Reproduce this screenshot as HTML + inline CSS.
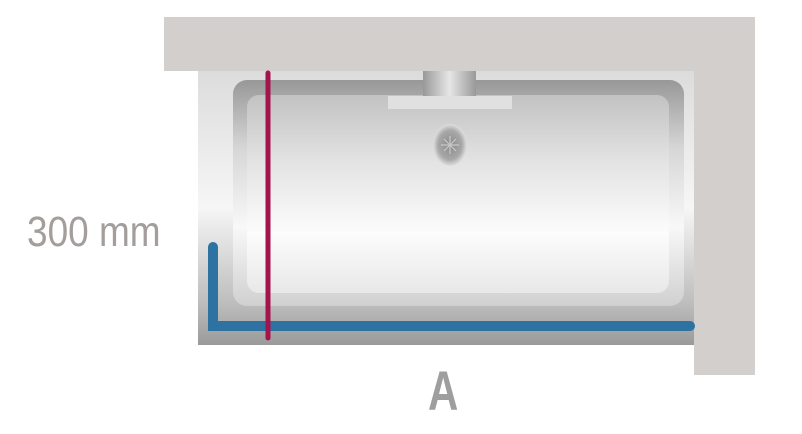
<!DOCTYPE html>
<html><head><style>
body{margin:0;width:802px;height:434px;background:#fff;position:relative;overflow:hidden;font-family:"Liberation Sans",sans-serif}
</style></head><body>
<svg width="802" height="434" style="position:absolute;left:0;top:0">
<defs>
<linearGradient id="tub" x1="0" y1="0" x2="0" y2="1">
<stop offset="0" stop-color="#dcdcdc"/><stop offset="0.5" stop-color="#f6f6f6"/><stop offset="0.85" stop-color="#bdbdbd"/><stop offset="1" stop-color="#9a9a9a"/></linearGradient>
<linearGradient id="rim" x1="0" y1="0" x2="0" y2="1">
<stop offset="0" stop-color="#989898"/><stop offset="0.3" stop-color="#d6d6d6"/><stop offset="0.65" stop-color="#f8f8f8"/><stop offset="1" stop-color="#d0d0d0"/></linearGradient>
<linearGradient id="inner" x1="0" y1="0" x2="0" y2="1">
<stop offset="0" stop-color="#c2c2c2"/><stop offset="0.35" stop-color="#e4e4e4"/><stop offset="0.7" stop-color="#fcfcfc"/><stop offset="1" stop-color="#e8e8e8"/></linearGradient>
<linearGradient id="cyl" x1="0" y1="0" x2="1" y2="0">
<stop offset="0" stop-color="#999"/><stop offset="0.5" stop-color="#e6e6e6"/><stop offset="1" stop-color="#999"/></linearGradient>
<radialGradient id="drain"><stop offset="0" stop-color="#8a8a8a"/><stop offset="0.7" stop-color="#a8a8a8"/><stop offset="1" stop-color="#e0e0e0"/></radialGradient>
</defs>
<rect x="164" y="17" width="591" height="54" fill="#d2cfcd"/>
<rect x="694" y="71" width="61" height="304" fill="#d2cfcd"/>
<rect x="198" y="71" width="496" height="274" fill="url(#tub)"/>
<rect x="233" y="80" width="451" height="226" rx="14" fill="url(#rim)"/>
<rect x="247" y="95" width="422" height="198" rx="12" fill="url(#inner)"/>
<rect x="423" y="71" width="53" height="25" fill="url(#cyl)"/>
<rect x="388" y="96" width="124" height="13" fill="#e0e0e0"/>
<ellipse cx="450" cy="145" rx="17" ry="21" fill="url(#drain)"/>
<g stroke="#c8c8c8" stroke-width="1.2"><line x1="450" y1="136" x2="450" y2="154"/><line x1="441" y1="145" x2="459" y2="145"/><line x1="444" y1="139" x2="456" y2="151"/><line x1="456" y1="139" x2="444" y2="151"/></g>
<path d="M213 247 V326 H690" fill="none" stroke="#2e72a2" stroke-width="10" stroke-linecap="round" stroke-linejoin="miter"/>
<line x1="268" y1="73" x2="268" y2="338" stroke="#a4134c" stroke-width="5" stroke-linecap="round"/>
</svg>
<div style="position:absolute;left:27px;top:206px;font-size:43px;line-height:52px;color:#a39d9b;transform:scaleX(0.86);transform-origin:0 0;white-space:nowrap">300 mm</div>
<div style="position:absolute;left:428px;top:359px;font-size:56px;line-height:64px;font-weight:bold;color:#9e9e9e;transform:scaleX(0.75);transform-origin:0 0">A</div>
</body></html>
